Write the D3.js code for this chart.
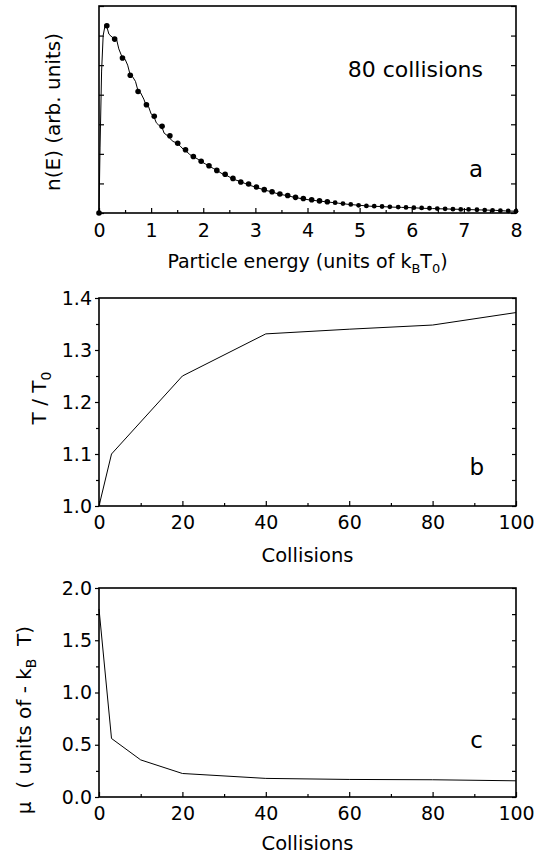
<!DOCTYPE html>
<meta charset="utf-8">
<style>
body { margin: 0; background: #fff; }
svg { font-family: "DejaVu Sans", sans-serif; }
.box { fill: none; stroke: #000; stroke-width: 1.6px; }
.axis path { display: none; }
.axis line { stroke: #000; stroke-width: 1.2px; }
.axis text { font-size: 19px; fill: #000; font-family: "DejaVu Sans", sans-serif; }
.curve { fill: none; stroke: #000; stroke-width: 1px; }
.label { fill: #000; white-space: pre; }
</style>
<body>
<script src="https://d3js.org/d3.v7.min.js"></script>
<script>

// panel a: energy distribution after 80 collisions
var dotE = [0, 0.15, 0.30, 0.45, 0.60, 0.75, 0.91, 1.06, 1.21, 1.36, 1.51, 1.66, 1.81, 1.96,
  2.11, 2.26, 2.42, 2.57, 2.72, 2.87, 3.02, 3.17, 3.32, 3.47, 3.62, 3.77, 3.92, 4.08, 4.23,
  4.38, 4.53, 4.68, 4.83, 4.98, 5.13, 5.28, 5.43, 5.58, 5.74, 5.89, 6.04, 6.19, 6.34, 6.49,
  6.64, 6.79, 6.94, 7.09, 7.25, 7.40, 7.55, 7.70, 7.85, 8.00];
var dotN = [0, 6.33, 5.88, 5.24, 4.66, 4.11, 3.66, 3.27, 2.93, 2.61, 2.36, 2.14, 1.91, 1.75,
  1.60, 1.44, 1.31, 1.17, 1.05, 0.98, 0.88, 0.79, 0.72, 0.64, 0.59, 0.53, 0.49, 0.45, 0.41,
  0.38, 0.35, 0.32, 0.29, 0.26, 0.24, 0.23, 0.22, 0.21, 0.20, 0.19, 0.18, 0.17, 0.16, 0.15,
  0.14, 0.13, 0.12, 0.12, 0.11, 0.10, 0.09, 0.08, 0.07, 0.06];

var lineE = [0, 0.02, 0.05, 0.08, 0.12, 0.15, 0.19, 0.23, 0.30, 0.34, 0.38, 0.45, 0.50, 0.55,
  0.60, 0.64, 0.70, 0.75, 0.80, 0.86, 0.90, 0.95, 1.00, 1.05, 1.10, 1.14, 1.20, 1.25, 1.31,
  1.36, 1.42, 1.50, 1.56, 1.62, 1.68, 1.74, 1.80, 1.88, 1.96, 2.04, 2.12, 2.20, 2.28, 2.36,
  2.44, 2.52, 2.60, 2.70, 2.80, 2.90, 3.0, 3.15, 3.3, 3.45, 3.6, 3.75, 3.9, 4.05, 4.2, 4.4,
  4.6, 4.8, 5.0, 5.2, 5.4, 5.6, 5.8, 6.0, 6.2, 6.4, 6.6, 6.8, 7.0, 7.2, 7.4, 7.6, 7.8, 8.0];
var lineN = [0, 2.2, 4.8, 6.0, 6.38, 6.3, 6.05, 5.98, 5.88, 5.85, 5.55, 5.24, 5.2, 5.0,
  4.66, 4.62, 4.45, 4.12, 4.06, 3.85, 3.66, 3.6, 3.35, 3.27, 3.05, 2.98, 2.94, 2.70, 2.62,
  2.52, 2.42, 2.36, 2.26, 2.15, 2.08, 1.98, 1.91, 1.84, 1.74, 1.66, 1.58, 1.50, 1.42, 1.33,
  1.28, 1.20, 1.13, 1.07, 1.0, 0.93, 0.88, 0.79, 0.72, 0.64, 0.59, 0.53, 0.48, 0.44, 0.41, 0.37,
  0.33, 0.29, 0.26, 0.23, 0.22, 0.20, 0.19, 0.18, 0.16, 0.15, 0.14, 0.13, 0.12, 0.11, 0.10,
  0.09, 0.07, 0.06];

// panel b: temperature vs collisions
var collB = [0, 3, 20, 40, 60, 80, 100];
var tempB = [1.0, 1.10, 1.25, 1.331, 1.340, 1.348, 1.372];

// panel c: chemical potential vs collisions
var collC = [0, 3, 10, 20, 40, 60, 80, 100];
var muC = [1.80, 0.56, 0.355, 0.225, 0.178, 0.168, 0.165, 0.155];

var ticksA = [0, 1, 2, 3, 4, 5, 6, 7, 8];
var ticksColl = [0, 20, 40, 60, 80, 100];

var width = 537,
    height = 860,
    left = 99,
    right = 516;

var svg = d3.select("body").append("svg")
    .attr("width", width)
    .attr("height", height);

function panel(top, bottom, xDomain, yDomain) {
  var x = d3.scaleLinear().domain(xDomain).range([left, right]);
  var y = d3.scaleLinear().domain(yDomain).range([bottom, top]);
  return {x: x, y: y, top: top, bottom: bottom};
}

function box(p) {
  svg.append("rect")
      .attr("class", "box")
      .attr("x", left)
      .attr("y", p.top)
      .attr("width", right - left)
      .attr("height", p.bottom - p.top);
}

function sub(text, parts) {
  parts.forEach(function(d) {
    var t = text.append("tspan").text(d[0]);
    if (d[1]) t.attr("font-size", d[1]);
    if (d[2]) t.attr("dy", d[2]);
  });
}

// ---------- panel a ----------
var a = panel(6, 213, [0, 8], [0, 7]);

svg.append("g").attr("class", "axis")
    .attr("transform", "translate(0," + a.bottom + ")")
    .call(d3.axisBottom(a.x).tickValues(ticksA).tickFormat(d3.format("d"))
      .tickSizeInner(-5).tickSizeOuter(0).tickPadding(11));
svg.append("g").attr("class", "axis")
    .attr("transform", "translate(0," + a.bottom + ")")
    .call(d3.axisBottom(a.x).tickValues(d3.range(0.5, 8, 1)).tickFormat("")
      .tickSizeInner(-3).tickSizeOuter(0));
svg.append("g").attr("class", "axis")
    .attr("transform", "translate(" + left + ",0)")
    .call(d3.axisLeft(a.y).ticks(7).tickFormat("").tickSizeInner(-5).tickSizeOuter(0));
svg.append("g").attr("class", "axis")
    .attr("transform", "translate(" + right + ",0)")
    .call(d3.axisRight(a.y).ticks(7).tickFormat("").tickSizeInner(-5).tickSizeOuter(0));

svg.append("path")
    .datum(d3.zip(lineE, lineN))
    .attr("class", "curve")
    .attr("d", d3.line().x(function(d) { return a.x(d[0]); }).y(function(d) { return a.y(d[1]); }));

svg.selectAll(".dot")
    .data(d3.zip(dotE, dotN))
  .enter().append("circle")
    .attr("class", "dot")
    .attr("cx", function(d) { return a.x(d[0]); })
    .attr("cy", function(d) { return a.y(d[1]); })
    .attr("r", function(d) { return d[0] > 4.5 ? 2.4 : 2.8; })
    .attr("fill", "#000");

box(a);

var ta = svg.append("text").attr("class", "label")
    .attr("x", (left + right) / 2).attr("y", 268)
    .attr("text-anchor", "middle").attr("font-size", 19);
sub(ta, [["Particle energy (units of k"], ["B", 13, 5], ["T", null, -5], ["0", 13, 5], [")", null, -5]]);

svg.append("text").attr("class", "label")
    .attr("transform", "translate(60," + 112 + ") rotate(-90)")
    .attr("text-anchor", "middle").attr("font-size", 20)
    .text("n(E) (arb. units)");

svg.append("text").attr("class", "label")
    .attr("x", 483).attr("y", 77).attr("text-anchor", "end").attr("font-size", 22)
    .text("80 collisions");
svg.append("text").attr("class", "label")
    .attr("x", 483).attr("y", 177).attr("text-anchor", "end").attr("font-size", 23)
    .text("a");

// ---------- panel b ----------
var b = panel(298, 506, [0, 100], [1.0, 1.4]);

function collAxes(p, yMajor, yMinor, fmt) {
  svg.append("g").attr("class", "axis")
      .attr("transform", "translate(0," + p.bottom + ")")
      .call(d3.axisBottom(p.x).tickValues(ticksColl).tickFormat(d3.format("d"))
        .tickSizeInner(-5).tickSizeOuter(0).tickPadding(10));
  svg.append("g").attr("class", "axis")
      .attr("transform", "translate(0," + p.bottom + ")")
      .call(d3.axisBottom(p.x).tickValues(d3.range(10, 100, 20)).tickFormat("")
        .tickSizeInner(-3).tickSizeOuter(0));
  svg.append("g").attr("class", "axis")
      .attr("transform", "translate(" + left + ",0)")
      .call(d3.axisLeft(p.y).tickValues(yMajor).tickFormat(d3.format(fmt))
        .tickSizeInner(4).tickSizeOuter(0).tickPadding(3));
  svg.append("g").attr("class", "axis")
      .attr("transform", "translate(" + left + ",0)")
      .call(d3.axisLeft(p.y).tickValues(yMinor).tickFormat("")
        .tickSizeInner(3).tickSizeOuter(0));
  svg.append("g").attr("class", "axis")
      .attr("transform", "translate(" + right + ",0)")
      .call(d3.axisRight(p.y).tickValues(yMajor.concat(yMinor)).tickFormat("")
        .tickSizeInner(-4).tickSizeOuter(0));
}

collAxes(b, [1.0, 1.1, 1.2, 1.3, 1.4], [1.05, 1.15, 1.25, 1.35], ".1f");

svg.append("path")
    .datum(d3.zip(collB, tempB))
    .attr("class", "curve")
    .attr("d", d3.line().x(function(d) { return b.x(d[0]); }).y(function(d) { return b.y(d[1]); }));

box(b);

svg.append("text").attr("class", "label")
    .attr("x", (left + right) / 2).attr("y", 562)
    .attr("text-anchor", "middle").attr("font-size", 19.5)
    .text("Collisions");

var tb = svg.append("text").attr("class", "label")
    .attr("transform", "translate(46,398) rotate(-90)")
    .attr("text-anchor", "middle").attr("font-size", 20);
sub(tb, [["T / T"], ["0", 14, 5]]);

svg.append("text").attr("class", "label")
    .attr("x", 484).attr("y", 475).attr("text-anchor", "end").attr("font-size", 23)
    .text("b");

// ---------- panel c ----------
var c = panel(588, 797, [0, 100], [0, 2]);

collAxes(c, [0, 0.5, 1.0, 1.5, 2.0], [0.25, 0.75, 1.25, 1.75], ".1f");

svg.append("path")
    .datum(d3.zip(collC, muC))
    .attr("class", "curve")
    .attr("d", d3.line().x(function(d) { return c.x(d[0]); }).y(function(d) { return c.y(d[1]); }));

box(c);

svg.append("text").attr("class", "label")
    .attr("x", (left + right) / 2).attr("y", 850)
    .attr("text-anchor", "middle").attr("font-size", 19.5)
    .text("Collisions");

var tc = svg.append("text").attr("class", "label")
    .attr("transform", "translate(31,720) rotate(-90)")
    .attr("text-anchor", "middle").attr("font-size", 20);
sub(tc, [["\u03bc  ( units of - k"], ["B", 14, 5], ["  T)", null, -5]]);

svg.append("text").attr("class", "label")
    .attr("x", 483).attr("y", 748).attr("text-anchor", "end").attr("font-size", 23)
    .text("c");

</script>
